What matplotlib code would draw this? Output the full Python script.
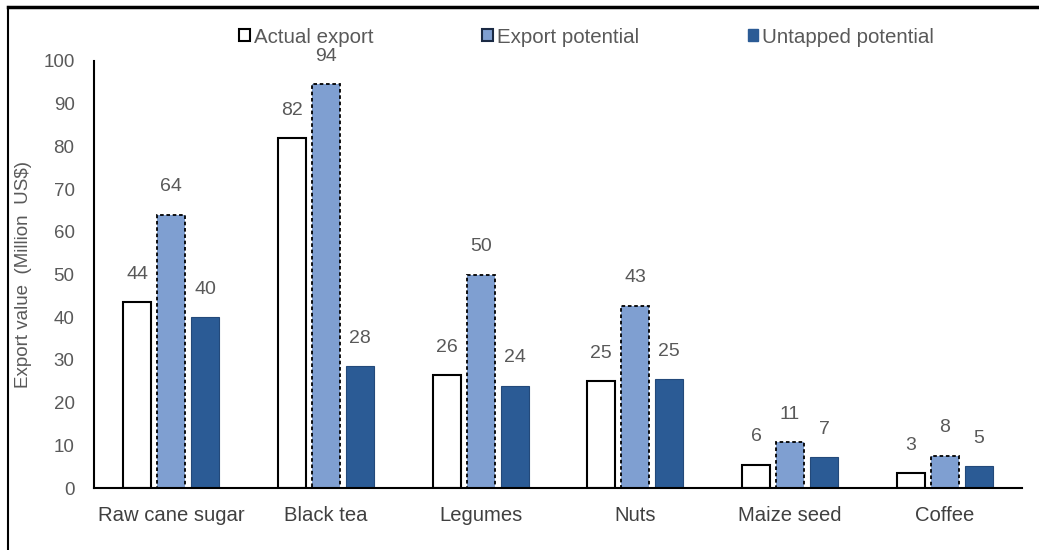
import matplotlib
matplotlib.use("Agg")
import matplotlib.pyplot as plt
from matplotlib.lines import Line2D
from matplotlib.patches import Patch
import numpy as np

categories = ["Raw cane sugar", "Black tea", "Legumes", "Nuts", "Maize seed", "Coffee"]
actual = [43.5, 82, 26.5, 25, 5.5, 3.5]
potential = [64, 94.5, 50, 42.7, 10.8, 7.6]
untapped = [40, 28.5, 24, 25.5, 7.2, 5.2]
actual_lbl = [44, 82, 26, 25, 6, 3]
potential_lbl = [64, 94, 50, 43, 11, 8]
untapped_lbl = [40, 28, 24, 25, 7, 5]

plt.rcParams["font.family"] = ["Liberation Sans", "DejaVu Sans"]
GRAY = "#595959"
LIGHT = "#7f9fd1"
DARK = "#2b5b95"

fig = plt.figure(figsize=(10.39, 5.5), dpi=100)
ax = fig.add_axes([0.0905, 0.1127, 0.8931, 0.7764])

x = np.arange(len(categories))
w = 0.18
off = 0.22
ax.bar(x - off, actual, w, color="white", edgecolor="black", linewidth=1.5)
ax.bar(x, potential, w, color=LIGHT, edgecolor="black", linewidth=1.3, linestyle=(0, (2, 1.5)))
ax.bar(x + off, untapped, w, color=DARK, edgecolor="#23497a", linewidth=0.8)

for xs, vals, lbls in [(x - off, actual, actual_lbl), (x, potential, potential_lbl),
                       (x + off, untapped, untapped_lbl)]:
    for xi, v, l in zip(xs, vals, lbls):
        ax.annotate(f"{l}", (xi, v), xytext=(0, 20), textcoords="offset points",
                    ha="center", va="center", fontsize=14, color=GRAY)

ax.set_xlim(-0.5, len(categories) - 0.5)
ax.set_ylim(0, 100)
ax.set_yticks(range(0, 101, 10))
ax.set_xticks(x)
ax.set_xticklabels(categories)
ax.tick_params(axis="y", length=0, pad=14, labelsize=13.5, labelcolor=GRAY)
ax.tick_params(axis="x", length=0, pad=13, labelsize=14.6, labelcolor="#404040")
for s in ["top", "right"]:
    ax.spines[s].set_visible(False)
ax.spines["left"].set_linewidth(1.5)
ax.spines["bottom"].set_linewidth(1.5)
ax.set_ylabel("Export value  (Million  US$)", fontsize=13.5, color=GRAY)
ax.yaxis.set_label_coords(-0.067, 0.5)

handles = [Patch(facecolor="white", edgecolor="black", linewidth=1.5),
           Patch(facecolor=LIGHT, edgecolor="#1a2a44", linewidth=1.5),
           Patch(facecolor=DARK, edgecolor=DARK)]
ax.legend(handles, ["Actual export", "Export potential", "Untapped potential"],
          loc="center", bbox_to_anchor=(0.531, 1.056), ncol=3, frameon=False,
          fontsize=14.8, handlelength=0.5, handleheight=0.5, handletextpad=0.2,
          columnspacing=5.3, labelcolor=GRAY)

# outer frame (top and left edges visible)
fig.add_artist(Line2D([8 / 1039, 1], [1 - 7 / 550, 1 - 7 / 550], color="black", linewidth=2.5))
fig.add_artist(Line2D([8 / 1039, 8 / 1039], [0, 1 - 7 / 550], color="black", linewidth=1.5))

fig.savefig("out.png", dpi=100)
